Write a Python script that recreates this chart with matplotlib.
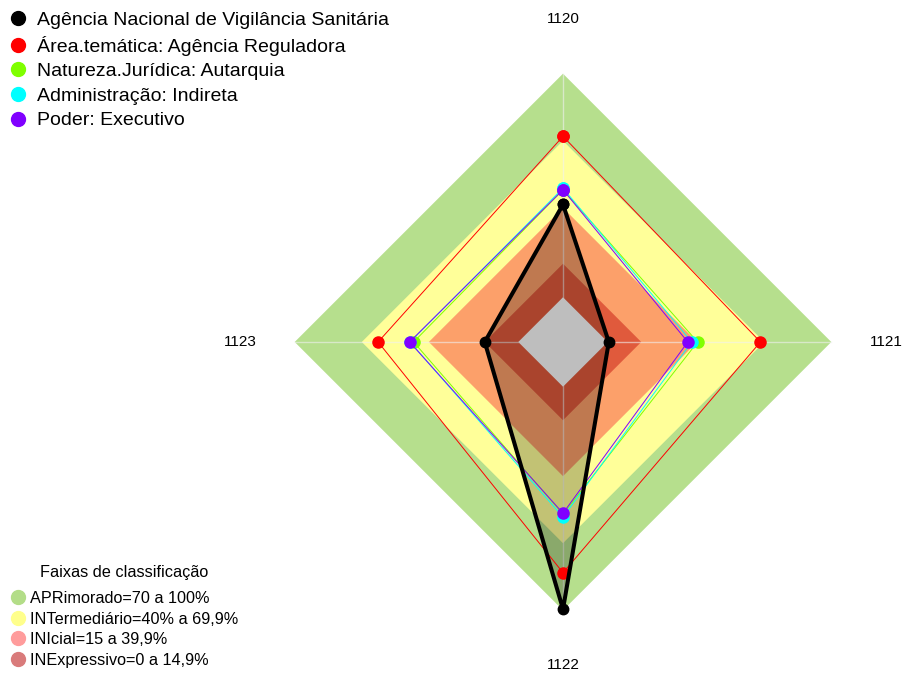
import numpy as np
import matplotlib.pyplot as plt
from matplotlib.lines import Line2D

plt.rcParams['font.family'] = ['Liberation Sans', 'DejaVu Sans']

# eixos do radar (sentido horario a partir do topo)
eixos = ['1120', '1121', '1122', '1123']

nomes = ['Agência Nacional de Vigilância Sanitária',
         'Área.temática: Agência Reguladora',
         'Natureza.Jurídica: Autarquia',
         'Administração: Indireta',
         'Poder: Executivo']
anvisa = [41.5, 0.5, 99.5, 15.0]
area_tematica = [72.0, 68.3, 83.2, 62.7]
natureza = [48.0, 40.2, 57.0, 46.8]
administracao = [48.8, 37.6, 58.3, 48.4]
poder = [48.1, 35.8, 56.6, 48.6]
cores = ['black', '#FF0000', '#7FFF00', '#00FFFF', '#8000FF']

faixas = ['APRimorado=70 a 100%', 'INTermediário=40% a 69,9%',
          'INIcial=15 a 39,9%', 'INExpressivo=0 a 14,9%']
limites = [100, 70, 40, 15]
cores_faixas = ['#B6DF8D', '#FFFF99', '#FCA06A', '#E05A3C']
cores_leg = ['#B3DD88', '#FFFF8C', '#FF9C9C', '#D97B7B']

ang = np.deg2rad([0, 90, 180, 270])
ang_f = np.append(ang, ang[0])

def fechar(v):
    return np.append(v, v[0])

fig = plt.figure(figsize=(9.05, 6.73), dpi=100)
ax = fig.add_axes([0.3256, 0.0932, 0.593, 0.7973], projection='polar')
ax.set_theta_zero_location('N')
ax.set_theta_direction(-1)
ax.set_ylim(-20, 100)
ax.axis('off')

# faixas de classificacao
for lim, c in zip(limites, cores_faixas):
    ax.fill(ang_f, [lim] * 5, color=c, lw=0, clip_on=False, zorder=1)

# raios
for a in ang:
    ax.plot([a, a], [-20, 100], color='#F0F0F0', alpha=0.6, lw=1.0,
            zorder=2, clip_on=False)

# preenchimento da agencia
ax.fill(ang_f, fechar(anvisa), color='black', alpha=0.24, lw=0, zorder=3)

# centro cinza
ax.fill(ang_f, [0] * 5, color='#BEBEBE', lw=0, zorder=4)

handles = []
dados = [anvisa, area_tematica, natureza, administracao, poder]
for i, (v, c) in enumerate(zip(dados, cores)):
    if i == 0:
        ax.plot(ang_f, fechar(v), color=c, lw=2.9, marker='o', ms=7.5,
                zorder=10, clip_on=False)
    else:
        ax.plot(ang_f, fechar(v), color=c, lw=0.7, marker='o', ms=8,
                zorder=5 + i, clip_on=False)
    handles.append(Line2D([], [], ls='', marker='o', ms=10, color=c))

for a, lab in zip(ang, eixos):
    ax.text(a, 124.4, lab, ha='center', va='center', fontsize=11, clip_on=False)

W, H = 905, 673
leg1 = fig.legend(handles, nomes, loc='upper left',
                  bbox_to_anchor=(8.2 / W, 1 - 11 / H), frameon=False,
                  fontsize=14, handlelength=1.0, handletextpad=0.47,
                  labelspacing=0.36, borderpad=0, borderaxespad=0)

fig.text(124 / W, 1 - 572 / H, 'Faixas de classificação', fontsize=11.7,
         ha='center', va='center')
h2 = [Line2D([], [], ls='', marker='o', ms=10, color=c) for c in cores_leg]
leg2 = fig.legend(h2, faixas, loc='upper left',
                  bbox_to_anchor=(9.85 / W, 1 - 591 / H), frameon=False,
                  fontsize=11.7, handlelength=1.0, handletextpad=0.24,
                  labelspacing=0.34, borderpad=0, borderaxespad=0)

fig.savefig('out.png', dpi=100)
